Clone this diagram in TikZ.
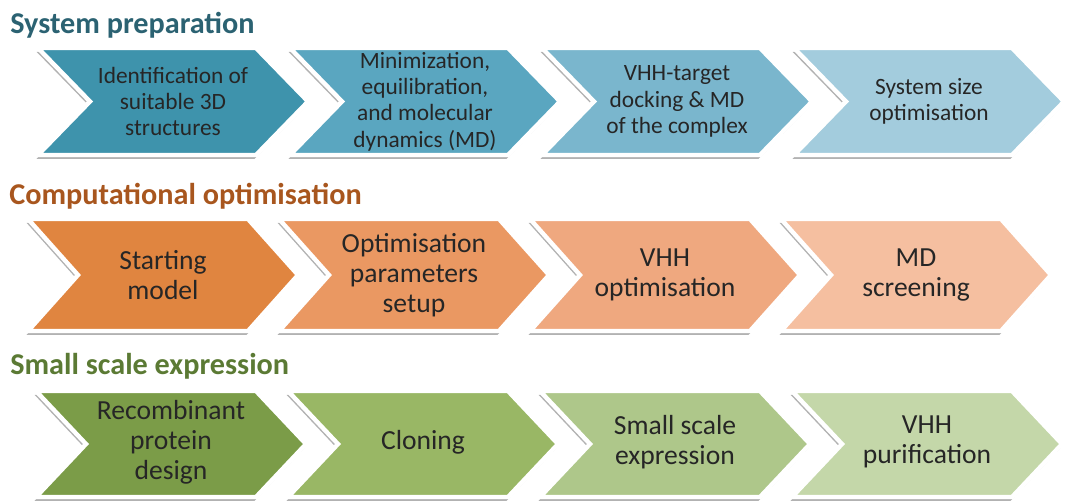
\documentclass[tikz,border=0pt]{standalone}
\usepackage{fontspec}
\setmainfont{Carlito}
\usetikzlibrary{shadows}

\definecolor{textgray}{HTML}{262626}
\definecolor{prepcol}{HTML}{2B6272}
\definecolor{compcol}{HTML}{A8561E}
\definecolor{exprcol}{HTML}{5B7A34}
\definecolor{prepA}{HTML}{3E93AC}
\definecolor{prepB}{HTML}{5AA6C0}
\definecolor{prepC}{HTML}{7AB6CD}
\definecolor{prepD}{HTML}{A3CCDD}
\definecolor{compA}{HTML}{E08540}
\definecolor{compB}{HTML}{EA9862}
\definecolor{compC}{HTML}{EFA87F}
\definecolor{compD}{HTML}{F5BFA0}
\definecolor{exprA}{HTML}{7B9C48}
\definecolor{exprB}{HTML}{99B765}
\definecolor{exprC}{HTML}{AEC78A}
\definecolor{exprD}{HTML}{C4D7A9}

\newcommand{\smalltxt}{\fontsize{13.3}{15}\selectfont}
\newcommand{\largetxt}{\fontsize{15.7}{17}\selectfont}

\begin{document}
\begin{tikzpicture}[x=0.02cm, y=-0.02cm,
    chevron/.style={fill=#1, draw=white, line width=2.5pt, line join=miter,
        drop shadow={shadow xshift=-0.8pt, shadow yshift=-2.2pt, fill=black, opacity=0.3}},
    rowtitle/.style={anchor=base west, inner sep=0pt, text=#1,
        font=\fontsize{17.2}{20}\selectfont\bfseries},
    steptext/.style={align=center, text=textgray, font=#1}
]
    \useasboundingbox (0,0) rectangle (1065,501);

    % Row titles
    \node[rowtitle=prepcol] (prep) at (10,33) {System preparation};
    \node[rowtitle=compcol] (comp) at (9,204) {Computational optimisation};
    \node[rowtitle=exprcol] (expr) at (10,374) {Small scale expression};

    % System preparation
    \foreach \i/\col/\txt in {0/prepA/{Identification of\\suitable 3D\\structures},
                              1/prepB/{Minimization,\\equilibration,\\and molecular\\dynamics (MD)},
                              2/prepC/{VHH-target\\docking \& MD\\of the complex},
                              3/prepD/{System size\\optimisation}} {
        \pgfmathsetmacro{\L}{38+252*\i}
        \draw[chevron=\col] (\L,48) -- ++(218,0) -- ++(52,53.5) -- ++(-52,53.5)
            -- ++(-218,0) -- ++(52,-53.5) -- cycle;
        \node[steptext=\smalltxt] (prep\i) at (\L+135,101.5) {\txt};
    }

    % Computational optimisation
    \foreach \i/\col/\txt in {0/compA/{Starting\\model},
                              1/compB/{Optimisation\\parameters\\setup},
                              2/compC/{VHH\\optimisation},
                              3/compD/{MD\\screening}} {
        \pgfmathsetmacro{\L}{28+251*\i}
        \draw[chevron=\col] (\L,219) -- ++(220,0) -- ++(50,56) -- ++(-50,56)
            -- ++(-220,0) -- ++(50,-56) -- cycle;
        \node[steptext=\largetxt] (comp\i) at (\L+135,275) {\txt};
    }

    % Small scale expression
    \foreach \i/\col/\txt in {0/exprA/{Recombinant\\protein\\design},
                              1/exprB/{Cloning},
                              2/exprC/{Small scale\\expression},
                              3/exprD/{VHH\\purification}} {
        \pgfmathsetmacro{\L}{36+252*\i}
        \draw[chevron=\col] (\L,391) -- ++(220,0) -- ++(50,53) -- ++(-50,53)
            -- ++(-220,0) -- ++(50,-53) -- cycle;
        \node[steptext=\largetxt] (expr\i) at (\L+135,442) {\txt};
    }

\end{tikzpicture}
\end{document}
